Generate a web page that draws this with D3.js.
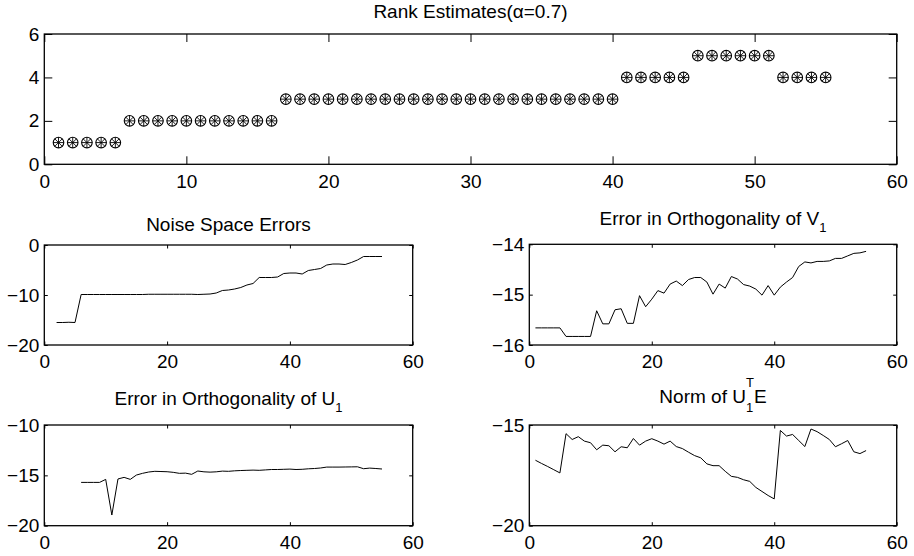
<!DOCTYPE html>
<html lang="en">
<head>
  <meta charset="UTF-8">
  <title>Rank Estimates</title>
  <script src="https://d3js.org/d3.v7.min.js"></script>
  <style>
    body { margin: 0; background: #fff; }
    text { font-family: "Liberation Sans", Arial, Helvetica, sans-serif; fill: #000; }
  </style>
</head>
<body>
<script>
  // iteration index shared by all panels
  var iter = [1,2,3,4,5,6,7,8,9,10,11,12,13,14,15,16,17,18,19,20,21,22,23,24,25,26,27,28,29,30,
              31,32,33,34,35,36,37,38,39,40,41,42,43,44,45,46,47,48,49,50,51,52,53,54,55];

  var rankValues = [1,1,1,1,1, 2,2,2,2,2,2,2,2,2,2,2,
                    3,3,3,3,3,3,3,3,3,3,3,3,3,3,3,3,3,3,3,3,3,3,3,3,
                    4,4,4,4,4, 5,5,5,5,5,5, 4,4,4,4];

  // noise space errors start at iteration 2
  var noiseX = iter.slice(1);
  var noiseValues = [-15.5,-15.5,-15.45,-15.5,-9.9,-9.9,-9.9,-9.9,-9.9,-9.9,-9.9,-9.9,-9.9,-9.9,-9.9,
                     -9.85,-9.85,-9.85,-9.85,-9.85,-9.85,-9.85,-9.85,-9.9,-9.85,-9.8,-9.6,-9.1,-9.0,-8.8,
                     -8.5,-8.0,-7.7,-6.5,-6.5,-6.5,-6.4,-5.7,-5.6,-5.6,-5.8,-5.1,-4.9,-4.7,-4.0,-3.8,
                     -3.8,-3.9,-3.5,-3.0,-2.3,-2.3,-2.3,-2.3];

  var orthVValues = [-15.66,-15.66,-15.66,-15.66,-15.66,-15.83,-15.83,-15.83,-15.83,-15.83,
                     -15.32,-15.58,-15.58,-15.30,-15.28,-15.57,-15.57,-15.02,-15.24,-15.09,
                     -14.92,-14.97,-14.79,-14.73,-14.82,-14.70,-14.66,-14.66,-14.75,-14.99,
                     -14.79,-14.87,-14.64,-14.69,-14.80,-14.83,-14.89,-15.01,-14.82,-15.01,
                     -14.85,-14.75,-14.66,-14.44,-14.35,-14.37,-14.34,-14.34,-14.33,-14.28,
                     -14.28,-14.23,-14.18,-14.17,-14.14];

  // orthogonality of U1 starts at iteration 6
  var orthUX = iter.slice(5);
  var orthUValues = [-15.7,-15.7,-15.7,-15.7,-15.4,-18.94,-15.36,-15.2,-15.4,-14.97,
                     -14.8,-14.67,-14.6,-14.62,-14.64,-14.7,-14.8,-14.78,-14.9,-14.57,
                     -14.65,-14.68,-14.65,-14.58,-14.6,-14.55,-14.52,-14.5,-14.48,-14.5,
                     -14.46,-14.42,-14.42,-14.4,-14.38,-14.42,-14.4,-14.35,-14.32,-14.27,
                     -14.18,-14.18,-14.18,-14.17,-14.16,-14.15,-14.34,-14.28,-14.32,-14.37];

  var normValues = [-16.75,-16.91,-17.06,-17.22,-17.38,-15.43,-15.72,-15.58,-15.8,-15.88,
                    -16.23,-16.0,-16.03,-16.33,-16.08,-16.13,-15.67,-16.0,-15.8,-15.68,
                    -15.8,-15.95,-15.8,-16.07,-16.17,-16.35,-16.52,-16.63,-16.93,-17.02,
                    -17.02,-17.3,-17.55,-17.6,-17.72,-17.8,-18.1,-18.3,-18.5,-18.67,
                    -15.27,-15.55,-15.47,-15.77,-16.07,-15.2,-15.33,-15.52,-15.72,-16.08,
                    -15.93,-15.77,-16.33,-16.42,-16.27];

  var topXTicks = [0,10,20,30,40,50,60];
  var smallXTicks = [0,20,40,60];

  var W = 914, H = 556, fs = 19;

  var svg = d3.select("body").append("svg")
    .attr("width", W)
    .attr("height", H);

  function panel(box, xDomain, yDomain, xTicks, yTicks, tickLen) {
    var x = d3.scaleLinear().domain(xDomain).range([box.x0, box.x1]);
    var y = d3.scaleLinear().domain(yDomain).range([box.y1, box.y0]);
    var g = svg.append("g");

    function axis(a, t, pos, pad) {
      var ax = g.append("g")
        .attr("transform", pos)
        .call(a.tickValues(t).tickFormat(d3.format("d"))
          .tickSizeInner(-tickLen).tickSizeOuter(0).tickPadding(pad));
      ax.select(".domain").remove();
      ax.selectAll("line").attr("stroke", "#000").attr("stroke-width", 1);
      ax.selectAll("text").style("font-size", fs + "px")
        .style("font-family", '"Liberation Sans", Arial, sans-serif');
      return ax;
    }
    axis(d3.axisBottom(x), xTicks, "translate(0," + box.y1 + ")", 10);
    axis(d3.axisTop(x), xTicks, "translate(0," + box.y0 + ")", 0).selectAll("text").remove();
    axis(d3.axisLeft(y), yTicks, "translate(" + box.x0 + ",0)", 5);
    axis(d3.axisRight(y), yTicks, "translate(" + box.x1 + ",0)", 0).selectAll("text").remove();

    g.append("rect")
      .attr("x", box.x0).attr("y", box.y0)
      .attr("width", box.x1 - box.x0).attr("height", box.y1 - box.y0)
      .attr("fill", "none").attr("stroke", "#000").attr("stroke-width", 1.3);

    return { g: g, x: x, y: y };
  }

  function drawLine(p, xs, ys) {
    p.g.append("path")
      .datum(xs.map(function (d, i) { return [d, ys[i]]; }))
      .attr("fill", "none")
      .attr("stroke", "#000")
      .attr("stroke-width", 1)
      .attr("d", d3.line().x(function (d) { return p.x(d[0]); }).y(function (d) { return p.y(d[1]); }));
  }

  function title(cx, y, build) {
    var t = svg.append("text")
      .attr("x", cx).attr("y", y)
      .attr("text-anchor", "middle")
      .style("font-size", fs + "px");
    build(t);
  }

  // --- top: rank estimates ---
  var rankPanel = panel({ x0: 44.3, x1: 896.7, y0: 34, y1: 164.3 }, [0, 60], [0, 6], topXTicks, [0, 2, 4, 6], 8);
  var r = 5.3;
  var mk = rankPanel.g.selectAll(".mk")
    .data(rankValues)
    .enter().append("g")
    .attr("class", "mk")
    .attr("transform", function (d, i) { return "translate(" + rankPanel.x(iter[i]) + "," + rankPanel.y(d) + ")"; });
  mk.append("circle").attr("r", r).attr("fill", "none").attr("stroke", "#000").attr("stroke-width", 1.1);
  [0, 45, 90, 135].forEach(function (a) {
    var dx = r * Math.cos(a * Math.PI / 180), dy = r * Math.sin(a * Math.PI / 180);
    mk.append("line")
      .attr("x1", -dx).attr("y1", -dy).attr("x2", dx).attr("y2", dy)
      .attr("stroke", "#000").attr("stroke-width", 0.9);
  });
  title(470.5, 18.3, function (t) { t.text("Rank Estimates(\u03b1=0.7)"); });

  // --- middle left: noise space errors ---
  var ml = panel({ x0: 44.3, x1: 412.7, y0: 245, y1: 345 }, [0, 60], [-20, 0], smallXTicks, [-20, -10, 0], 3.5);
  drawLine(ml, noiseX, noiseValues);
  title(228.5, 230.7, function (t) { t.text("Noise Space Errors"); });

  // --- middle right: orthogonality of V1 ---
  var mr = panel({ x0: 529.3, x1: 896.7, y0: 244.3, y1: 345 }, [0, 60], [-16, -14], smallXTicks, [-16, -15, -14], 3.5);
  drawLine(mr, iter, orthVValues);
  title(713, 225, function (t) {
    t.append("tspan").text("Error in Orthogonality of V");
    t.append("tspan").attr("dy", 6.7).style("font-size", "13px").text("1");
  });

  // --- bottom left: orthogonality of U1 ---
  var bl = panel({ x0: 44.3, x1: 412.7, y0: 425, y1: 525.7 }, [0, 60], [-20, -10], smallXTicks, [-20, -15, -10], 3.5);
  drawLine(bl, orthUX, orthUValues);
  title(228.5, 405, function (t) {
    t.append("tspan").text("Error in Orthogonality of U");
    t.append("tspan").attr("dy", 6.7).style("font-size", "13px").text("1");
  });

  // --- bottom right: norm of U1^T E ---
  var br = panel({ x0: 529.3, x1: 896.7, y0: 425, y1: 525.7 }, [0, 60], [-20, -15], smallXTicks, [-20, -15], 3.5);
  drawLine(br, iter, normValues);
  title(713, 402.7, function (t) {
    t.append("tspan").text("Norm of U");
    t.append("tspan").attr("dy", 9).style("font-size", "13px").text("1");
    t.append("tspan").attr("dx", -7.2).attr("dy", -24.5).style("font-size", "13px").text("T");
    t.append("tspan").attr("dy", 15.5).text("E");
  });
</script>
</body>
</html>
